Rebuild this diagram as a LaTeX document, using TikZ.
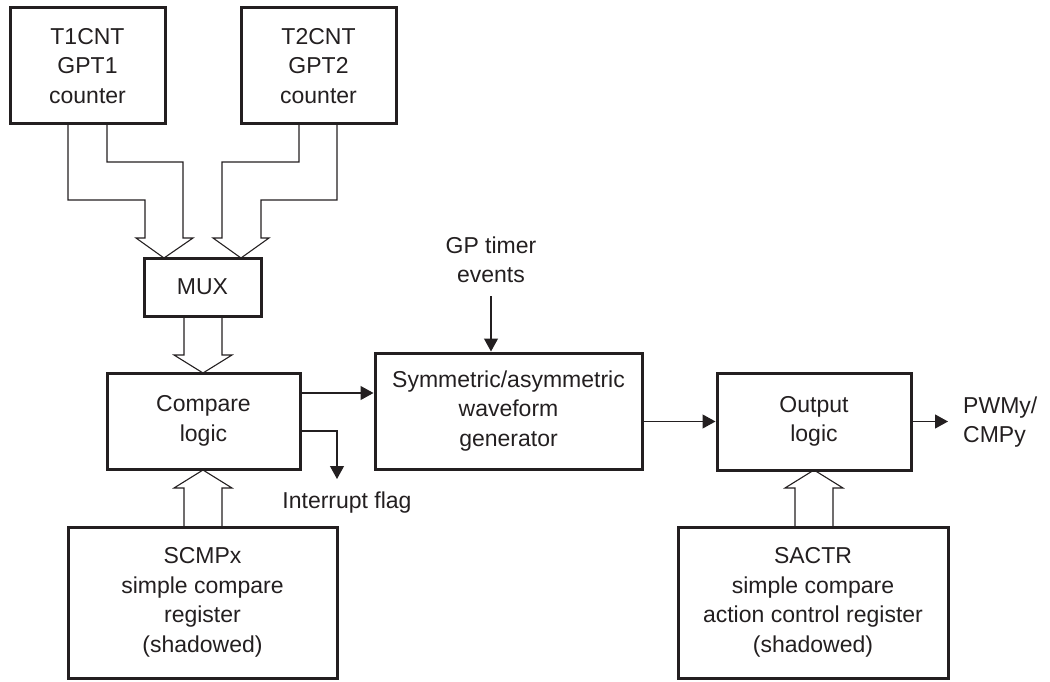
\documentclass[tikz,border=0pt]{standalone}
\usepackage{fontspec}
\setmainfont{Liberation Sans}
\usetikzlibrary{arrows.meta,calc}
\definecolor{ink}{RGB}{35,31,32}
\begin{document}
\begin{tikzpicture}[x=1pt,y=-1pt,
  box/.style={draw=ink,line width=3pt,rectangle,inner sep=0pt,align=center,text=ink,
    font=\fontsize{23pt}{29.5pt}\selectfont},
  lbl/.style={text=ink,inner sep=0pt,align=center,font=\fontsize{23pt}{29.5pt}\selectfont},
  thin/.style={draw=ink,line width=1.2pt},
  arr/.style={thin,-{Triangle[length=13pt,width=14pt]}},
  hol/.style={draw=ink,line width=1.1pt,line join=miter}]
\useasboundingbox (0,0) rectangle (1050,682);
% boxes
\node[box,minimum width=155pt,minimum height=116pt] (t1) at (87.5,66) {T1CNT\\GPT1\\counter};
\node[box,minimum width=155pt,minimum height=116pt] (t2) at (318.5,66) {T2CNT\\GPT2\\counter};
\node[box,minimum width=117pt,minimum height=58pt] (mux) at (202.5,287) {MUX};
\node[box,minimum width=193pt,minimum height=96pt] (cmp) at (203.5,421) {Compare\\logic};
\node[box,minimum width=267pt,minimum height=116pt] (sym) at (508.5,411) {Symmetric/asymmetric\\waveform\\generator};
\node[box,minimum width=194pt,minimum height=97pt] (out) at (814,421.5) {Output\\logic};
\node[box,minimum width=269pt,minimum height=151pt] (scmp) at (202.5,602.5) {SCMPx\\simple compare\\register\\(shadowed)};
\node[box,minimum width=270pt,minimum height=151pt] (sactr) at (813,602.5) {SACTR\\simple compare\\action control register\\(shadowed)};
% labels
\node[lbl] (gp) at (491,260) {GP timer\\events};
\node[lbl] (intl) at (347,503) {Interrupt flag};
\node[lbl,anchor=west,align=left] (pwm) at (963,422) {PWMy/\\CMPy};
% hollow arrows
\draw[hol] (68,124) |- (145,200) -- (145,238) -- (136,238) -- (164,258) -- (193,238) -- (183,238) |- (107,162) -- (107,124);
\draw[hol] (337,124) |- (261,200) -- (261,238) -- (269,238) -- (241,258) -- (213,238) -- (222,238) |- (299,162) -- (299,124);
\draw[hol] (184,316) -- (184,355) -- (174,355) -- (203,373) -- (232,355) -- (222,355) -- (222,316);
\draw[hol] (184,527) -- (184,488) -- (174,488) -- (203,470) -- (232,488) -- (222,488) -- (222,527);
\draw[hol] (795,527) -- (795,488) -- (785,488) -- (814,470) -- (843,488) -- (833,488) -- (833,527);
% filled arrows
\coordinate (cmpo) at ([yshift=28pt]cmp.east);
\draw[arr] (cmpo) -- (sym.west |- cmpo);
\coordinate (intp) at (337,479);
\draw[arr] ([yshift=-10pt]cmp.east) -| (intp);
\coordinate (gpt) at (491,296);
\draw[arr] (gpt) -- (gpt |- sym.north);
\draw[arr] (sym.east |- out.west) -- (out.west);
\coordinate (pwmp) at (948,421.5);
\draw[arr] (out.east) -- (pwmp);
\end{tikzpicture}
\end{document}
